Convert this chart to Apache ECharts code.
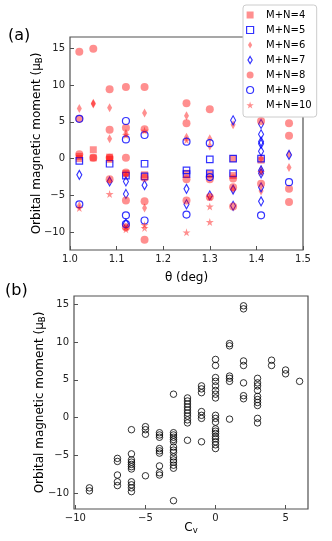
<!DOCTYPE html>
<html>
<head>
<meta charset="utf-8">
<script src="https://cdn.jsdelivr.net/npm/echarts@6/dist/echarts.min.js"></script>
<style>
html, body { margin: 0; padding: 0; background: #fff; }
#chart { width: 332px; height: 541px; }
</style>
</head>
<body>
<div id="chart"></div>
<script>
// panel (a): [theta (deg), orbital moment] for each M+N group
var groupNames = ['M+N=4', 'M+N=5', 'M+N=6', 'M+N=7', 'M+N=8', 'M+N=9', 'M+N=10'];
var mn4 = [[1.02, 0.3], [1.02, 0.0], [1.05, 1.2], [1.05, 0.1], [1.085, 0.2], [1.085, -0.1],
	[1.12, -2.0], [1.16, -2.2], [1.25, -2.0], [1.30, -2.1], [1.35, 0.0], [1.35, -2.3], [1.41, -0.2]];
var mn5 = [[1.02, -0.3], [1.085, -0.7], [1.12, -2.3], [1.16, -0.7], [1.16, -2.4], [1.25, -1.6],
	[1.25, -2.1], [1.30, -0.1], [1.30, -2.0], [1.35, 0.0], [1.35, -2.0], [1.41, 0.0]];
var mn6 = [[1.02, 6.8], [1.02, -6.4], [1.05, 7.5], [1.05, 7.4], [1.085, 6.9], [1.085, 2.7], [1.085, -3.0],
	[1.12, 3.4], [1.12, -2.3], [1.16, 6.2], [1.16, -6.7], [1.25, 5.8], [1.25, 2.9], [1.30, 2.7], [1.30, 1.7],
	[1.35, 4.6], [1.35, -4.2], [1.41, 0.0], [1.41, -1.5], [1.41, -4.4], [1.47, 0.6], [1.47, -1.2]];
var mn7 = [[1.02, -2.2], [1.085, -3.1], [1.12, -3.1], [1.12, -4.8], [1.12, -8.8], [1.16, -3.6],
	[1.25, -4.1], [1.25, -6.2], [1.30, -5.0], [1.35, 5.2], [1.35, -4.2], [1.35, -6.4],
	[1.41, 4.7], [1.41, 3.3], [1.41, 2.3], [1.41, 2.0], [1.41, 1.0], [1.41, -1.6], [1.41, -2.0],
	[1.41, -3.9], [1.41, -5.8], [1.47, 0.5]];
var mn8 = [[1.02, 14.5], [1.02, 5.4], [1.02, 0.6], [1.05, 14.9], [1.05, 0.1], [1.085, 9.4], [1.085, 3.9],
	[1.085, 0.1], [1.085, -2.8], [1.12, 9.7], [1.12, 4.2], [1.12, 0.1], [1.12, -1.9], [1.12, -5.7], [1.12, -9.3],
	[1.16, 9.7], [1.16, 4.0], [1.16, -2.6], [1.16, -5.8], [1.16, -11.0], [1.25, 7.5], [1.25, 4.8], [1.25, -2.8],
	[1.25, -5.7], [1.30, 6.7], [1.30, -2.8], [1.30, -5.2], [1.35, -2.7], [1.35, -3.9], [1.35, -6.5],
	[1.41, 5.1], [1.41, -3.4], [1.47, 4.8], [1.47, 3.1], [1.47, -4.1], [1.47, -5.9]];
var mn9 = [[1.02, 5.4], [1.02, -6.2], [1.12, 5.1], [1.12, 2.6], [1.12, -7.7], [1.12, -8.9], [1.16, 3.2],
	[1.16, -8.4], [1.25, 2.3], [1.25, -7.6], [1.30, 2.1], [1.30, -2.5], [1.41, -7.7], [1.47, -3.2]];
var mn10 = [[1.02, -6.7], [1.085, -4.8], [1.12, 3.2], [1.12, -9.2], [1.12, -9.6], [1.16, 3.8], [1.16, -9.0],
	[1.16, -9.4], [1.25, 2.5], [1.25, -10.0], [1.30, -5.2], [1.30, -6.5], [1.30, -8.6], [1.41, -1.8]];

// panel (b): moments grouped by C_v
var cvValues = [-9, -7, -6, -5, -4, -3, -2, -1, 0, 1, 2, 3, 4, 5, 6];
var cvMoments = [
	[-9.3, -9.7],
	[-5.4, -5.8, -7.6, -8.5, -9.0],
	[-1.6, -4.8, -5.6, -5.9, -6.2, -6.5, -6.8, -8.5, -8.9, -9.3, -9.8],
	[-1.2, -1.6, -2.2, -7.7],
	[-2.0, -2.3, -2.6, -4.1, -4.4, -4.7, -6.4, -7.3, -7.6],
	[3.1, -2.0, -2.3, -2.6, -2.9, -3.2, -3.9, -4.3, -4.6, -5.2, -5.6, -5.9, -6.3, -6.7, -11.0],
	[2.6, 2.2, 1.8, 1.4, 1.0, 0.6, 0.2, -0.3, -0.7, -3.0],
	[4.2, 3.8, 3.3, 0.8, 0.3, -0.1, -3.2],
	[7.7, 6.9, 5.3, 4.8, 4.2, 3.6, 3.1, 2.6, 0.3, -0.1, -0.6, -1.5, -1.8, -2.1, -2.5, -2.8, -3.2, -3.6, -4.1],
	[9.8, 9.5, 5.5, 5.2, 4.8, -0.2],
	[14.8, 14.4, 7.5, 6.9, 4.6, 2.9, 2.5],
	[5.2, 4.6, 4.2, 3.6, 2.8, 2.4, 2.0, 1.6, -0.1, -0.7],
	[7.6, 6.9],
	[6.3, 5.8],
	[4.8]
];

var thetaTicks = [1.0, 1.1, 1.2, 1.3, 1.4, 1.5];
var momentTicks = [-10, -5, 0, 5, 10, 15];
var cvTicks = [-10, -5, 0, 5];

var FONT = 'DejaVu Sans';
var RED = 'rgba(255,0,0,0.55)';
var CLEAR = 'rgba(0,0,0,0)';
var FRAME = '#505050';
var STAR = 'path://M50,0L61,35L98,35L68,57L79,91L50,70L21,91L32,57L2,35L39,35Z';
var THIN_DIAMOND = 'path://M3,0L6,5L3,10L0,5Z';
var SQUARE = 'path://M0,0L10,0L10,10L0,10Z';
var CIRCLE = 'path://M5,0A5,5,0,1,1,5,10A5,5,0,1,1,5,0Z';

function minus(v) {
	return String(v).replace('-', '\u2212');
}

var cvPoints = [];
cvValues.forEach(function (c, i) {
	cvMoments[i].forEach(function (m) { cvPoints.push([c, m]); });
});

var groupData = [mn4, mn5, mn6, mn7, mn8, mn9, mn10];
var groupSymbol = ['rect', 'rect', THIN_DIAMOND, THIN_DIAMOND, 'circle', 'circle', STAR];
var groupLegendIcon = [SQUARE, SQUARE, THIN_DIAMOND, THIN_DIAMOND, CIRCLE, CIRCLE, STAR];
var groupSize = [7, 6.5, [5, 9], [5, 9], 8, 7, 8];
var groupOpen = [false, true, false, true, false, true, false];

function groupStyle(i) {
	return groupOpen[i]
		? { color: CLEAR, borderColor: '#0000ff', borderWidth: 1.2 }
		: { color: RED, borderColor: CLEAR, borderWidth: 0 };
}

var series = groupNames.map(function (name, i) {
	return {
		type: 'scatter',
		name: name,
		xAxisIndex: 0,
		yAxisIndex: 0,
		data: groupData[i],
		symbol: groupSymbol[i],
		symbolSize: groupSize[i],
		symbolKeepAspect: false,
		itemStyle: groupStyle(i)
	};
});
series.push({
	type: 'scatter',
	xAxisIndex: 1,
	yAxisIndex: 1,
	data: cvPoints,
	symbol: 'circle',
	symbolSize: 6.5,
	itemStyle: { color: CLEAR, borderColor: '#000', borderWidth: 1 }
});

function valueAxis(opt) {
	return Object.assign({
		type: 'value',
		axisLine: { show: false, onZero: false },
		splitLine: { show: false },
		nameLocation: 'middle',
		nameMoveOverlap: false,
		nameTextStyle: { fontFamily: FONT, fontSize: 12, color: '#000',
			rich: { sub: { fontFamily: FONT, fontSize: 8.5, color: '#000', verticalAlign: 'bottom', padding: [6, 0, 0, 0] } } }
	}, opt);
}

function ticks(values) {
	return { show: true, inside: true, length: 4, customValues: values, lineStyle: { color: FRAME, width: 1 } };
}

function labels(values, fmt, margin) {
	return { customValues: values, margin: margin, fontFamily: FONT, fontSize: 10, color: '#222', formatter: fmt };
}

var chart = echarts.init(document.getElementById('chart'));
chart.setOption({
	animation: false,
	backgroundColor: '#fff',
	textStyle: { fontFamily: FONT },
	grid: [
		{ left: 70, top: 37, width: 233, height: 213, show: true, borderColor: FRAME, borderWidth: 1.2, backgroundColor: 'transparent' },
		{ left: 74, top: 296, width: 234, height: 213, show: true, borderColor: FRAME, borderWidth: 1.2, backgroundColor: 'transparent' }
	],
	xAxis: [
		valueAxis({
			gridIndex: 0, min: 1.0, max: 1.5,
			name: '\u03b8 (deg)', nameGap: 22,
			axisTick: ticks(thetaTicks),
			axisLabel: labels(thetaTicks, function (v) { return v.toFixed(1); }, 4)
		}),
		valueAxis({
			gridIndex: 1, min: -10.1, max: 6.6,
			name: 'C{sub|v}', nameGap: 11,
			axisTick: ticks(cvTicks),
			axisLabel: labels(cvTicks, minus, 4)
		})
	],
	yAxis: [
		valueAxis({
			gridIndex: 0, min: -12.4, max: 16.5,
			name: 'Orbital magnetic moment (\u03bc{sub|B})', nameGap: 26,
			axisTick: ticks(momentTicks),
			axisLabel: labels(momentTicks, minus, 5)
		}),
		valueAxis({
			gridIndex: 1, min: -12.1, max: 16.1,
			name: 'Orbital magnetic moment (\u03bc{sub|B})', nameGap: 27,
			axisTick: ticks(momentTicks),
			axisLabel: labels(momentTicks, minus, 5)
		})
	],
	legend: {
		orient: 'vertical',
		left: 243,
		top: 5,
		padding: [4, 5, 6, 3],
		itemWidth: 22,
		itemHeight: 7,
		itemGap: 3,
		backgroundColor: '#fff',
		borderColor: '#cccccc',
		borderWidth: 1,
		borderRadius: 3,
		selectedMode: false,
		textStyle: { fontFamily: FONT, fontSize: 10, color: '#000', lineHeight: 12 },
		data: groupNames.map(function (name, i) {
			return { name: name, icon: groupLegendIcon[i], itemStyle: groupStyle(i) };
		})
	},
	graphic: [
		{ type: 'text', left: 8, top: 28, style: { text: '(a)', fontFamily: FONT, fontSize: 16, fill: '#000' } },
		{ type: 'text', left: 5, top: 283, style: { text: '(b)', fontFamily: FONT, fontSize: 16, fill: '#000' } }
	],
	series: series
});
</script>
</body>
</html>
